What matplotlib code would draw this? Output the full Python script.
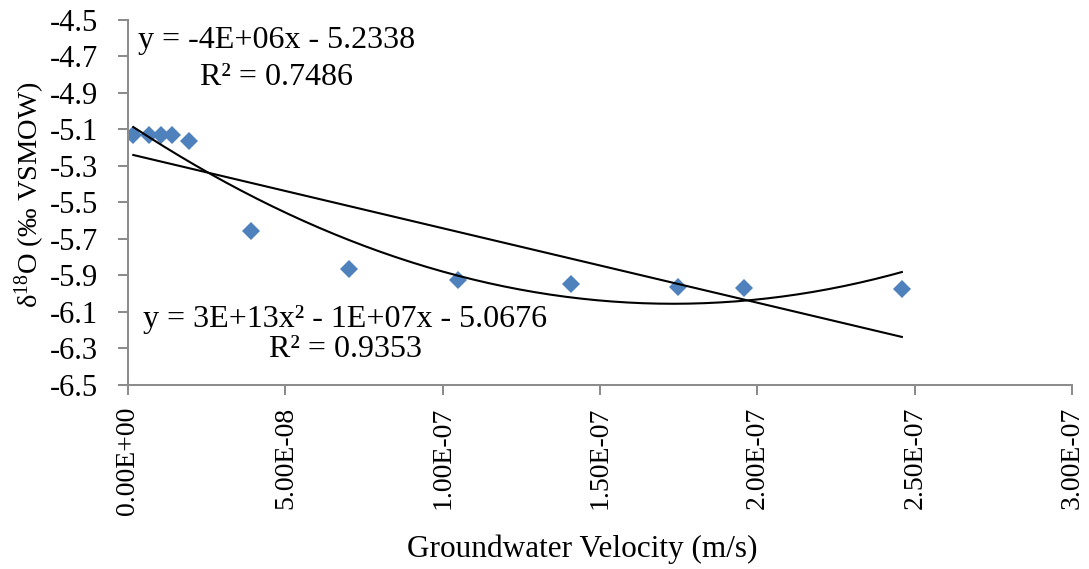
import numpy as np
import matplotlib
matplotlib.use("Agg")
import matplotlib.pyplot as plt
from matplotlib.ticker import FuncFormatter, MultipleLocator, FixedLocator

plt.rcParams["font.family"] = ["Liberation Serif", "DejaVu Serif"]
plt.rcParams["mathtext.default"] = "regular"
plt.rcParams["axes.unicode_minus"] = False

# groundwater velocity (m/s) and d18O (permil VSMOW)
velocity = [1.7e-9, 6.8e-9, 1.05e-8, 1.39e-8, 1.95e-8, 3.9e-8,
            7.03e-8, 1.05e-7, 1.407e-7, 1.749e-7, 1.958e-7, 2.459e-7]
d18o = [-5.130, -5.130, -5.130, -5.130, -5.166, -5.656,
        -5.864, -5.925, -5.949, -5.965, -5.967, -5.976]
y_ticks = [-6.5, -6.3, -6.1, -5.9, -5.7, -5.5, -5.3, -5.1, -4.9, -4.7, -4.5]

lin_eq = ["y = -4E+06x - 5.2338", "R² = 0.7486"]
poly_eq = ["y = 3E+13x² - 1E+07x - 5.0676", "R² = 0.9353"]

grey = "#8C8C8C"

x = np.array(velocity)
y = np.array(d18o)

fig = plt.figure(figsize=(10.89, 5.69), dpi=100)
ax = fig.add_axes([0.1175, 0.3234, 0.867, 0.6423])

# trendlines, fitted from the points like Excel does
xs = np.linspace(x.min(), x.max(), 200)
lin = np.polyfit(x, y, 1)
quad = np.polyfit(x, y, 2)
ax.plot(xs, np.polyval(lin, xs), color="black", lw=1.5, zorder=3)
ax.plot(xs, np.polyval(quad, xs), color="black", lw=1.5, zorder=3)

ax.plot(x, y, linestyle="none", marker="D", ms=9.5, color="#4F81BD",
        markeredgewidth=0, zorder=2)

ax.set_xlim(0, 3e-7)
ax.set_ylim(-6.5, -4.5)
ax.xaxis.set_major_locator(MultipleLocator(5e-8))
ax.yaxis.set_major_locator(FixedLocator(y_ticks))
ax.xaxis.set_major_formatter(FuncFormatter(lambda v, p: f"{v:.2E}"))
ax.yaxis.set_major_formatter(FuncFormatter(lambda v, p: f"{v:.1f}"))

for s in ("top", "right"):
    ax.spines[s].set_visible(False)
for s in ("left", "bottom"):
    ax.spines[s].set_color(grey)
    ax.spines[s].set_linewidth(1.45)
ax.tick_params(axis="both", color=grey, width=1.45, length=7.2,
               labelcolor="black")
ax.tick_params(axis="x", labelrotation=90, pad=8.3, labelsize=20)
ax.tick_params(axis="y", pad=14.3, labelsize=22)

ax.set_xlabel("Groundwater Velocity (m/s)", fontsize=22.5, va="baseline")
ax.xaxis.set_label_coords(0.4815, -0.4706)
ax.set_ylabel("δ$^{18}$O (‰ VSMOW)", fontsize=20.5, va="baseline")
ax.yaxis.set_label_coords(-0.0953, 0.52)

# trendline labels, each line centred like Excel
ax.text(0.1578, 0.9212, lin_eq[0], transform=ax.transAxes, fontsize=23,
        ha="center", va="baseline")
ax.text(0.1578, 0.8208, lin_eq[1], transform=ax.transAxes, fontsize=23,
        ha="center", va="baseline")
ax.text(0.2299, 0.1595, poly_eq[0], transform=ax.transAxes, fontsize=23,
        ha="center", va="baseline")
ax.text(0.2299, 0.0774, poly_eq[1], transform=ax.transAxes, fontsize=23,
        ha="center", va="baseline")

fig.savefig("out.png", dpi=100)
